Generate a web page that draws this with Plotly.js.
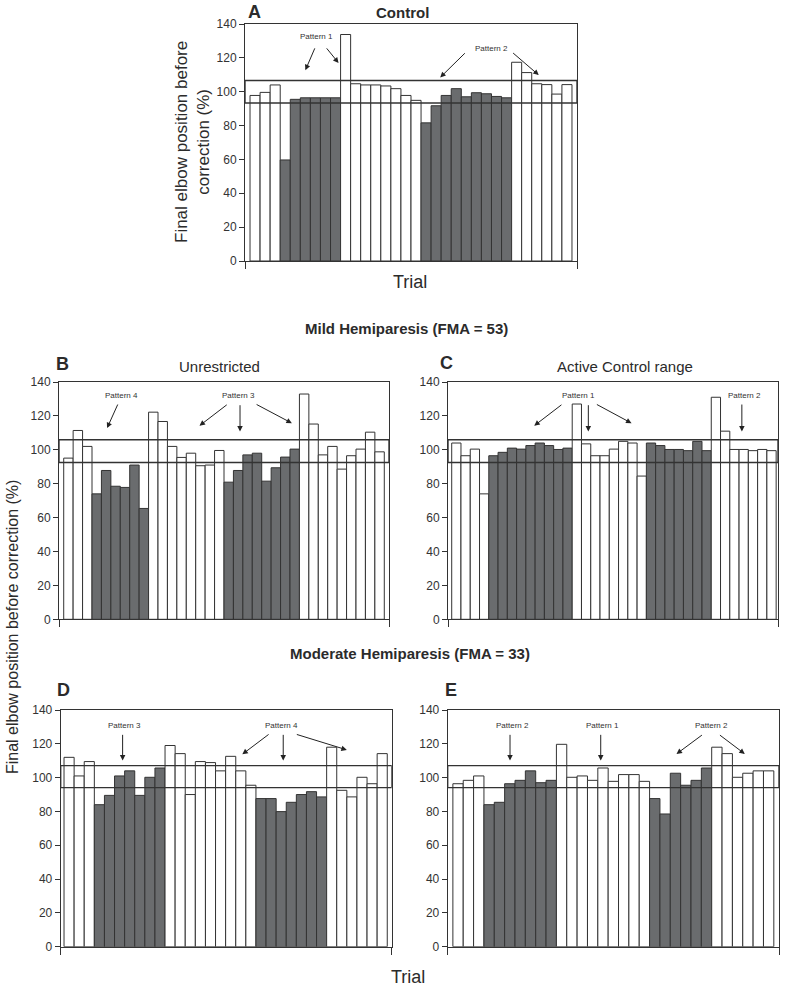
<!DOCTYPE html>
<html>
<head>
<meta charset="utf-8">
<script src="https://cdn.plot.ly/plotly-3.0.1.min.js"></script>
<style>
  html, body { margin: 0; padding: 0; background: #fff; }
  #chart { width: 789px; height: 989px; }
</style>
</head>
<body>
<div id="chart"></div>
<script>
// final elbow position before correction (%), one value per trial
const valuesA = [97.8, 99.6, 104, 59.7, 95.5, 96.4, 96.4, 96.4, 96.4, 133.8, 104.7, 104, 104, 103.4, 101.8, 97.8,
                 94.9, 81.6, 91.7, 97.8, 101.8, 97, 99.4, 98.8, 97.2, 96.4, 117.4, 111.3, 104.7, 104.2, 98.6, 104.2];
const valuesB = [95.1, 111.4, 102, 74, 87.8, 78.5, 77.8, 91, 65.4, 122.2, 116.7, 102, 95.5, 98, 90.6, 91, 99.6,
                 80.9, 87.8, 97, 98, 81.5, 89.4, 95.7, 100.4, 132.9, 115.2, 97, 102, 88.6, 96.5, 100.4, 110.4, 98.8];
const valuesC = [104, 96.5, 100.4, 74, 96.5, 98.5, 101, 100.4, 102.5, 104, 102.5, 100.2, 101, 127, 103.5, 96.5,
                 96.5, 100.4, 105, 104, 84.5, 104, 102.5, 100.2, 100.2, 99.5, 105, 99.5, 131, 111, 100.2, 100.2,
                 99.5, 100.2, 99.5];
const valuesD = [112, 101, 109.5, 84, 89.5, 101, 104, 89.5, 100.2, 105.7, 119, 114.2, 90, 109.5, 108.9, 104,
                 112.6, 104, 95.5, 87.6, 87.6, 79.9, 85.4, 90, 91.7, 88.6, 118, 92.5, 88.6, 100.2, 96.4, 114.2];
const valuesE = [96.4, 98.4, 101, 84, 85.4, 96.4, 98.4, 104, 97, 98.4, 119.7, 100.2, 101, 98.4, 105.7, 97.8,
                 101.8, 101.8, 97.8, 87.6, 78.5, 102.6, 95.5, 98.4, 105.7, 118, 114.2, 100.2, 102.6, 104, 104];

// 1 = shaded trial, 0 = open trial
const shadedA = [0,0,0,1,1,1,1,1,1,0,0,0,0,0,0,0,0,1,1,1,1,1,1,1,1,1,0,0,0,0,0,0];
const shadedB = [0,0,0,1,1,1,1,1,1,0,0,0,0,0,0,0,0,1,1,1,1,1,1,1,1,0,0,0,0,0,0,0,0,0];
const shadedC = [0,0,0,0,1,1,1,1,1,1,1,1,1,0,0,0,0,0,0,0,0,1,1,1,1,1,1,1,0,0,0,0,0,0,0];
const shadedD = [0,0,0,1,1,1,1,1,1,1,0,0,0,0,0,0,0,0,0,1,1,1,1,1,1,1,0,0,0,0,0,0];
const shadedE = [0,0,0,1,1,1,1,1,1,1,0,0,0,0,0,0,0,0,0,1,1,1,1,1,1,0,0,0,0,0,0];

// control band (lower, upper)
const bandA = [93.3, 106.6];
const bandB = [92.5, 105.9];
const bandC = [92.5, 105.9];
const bandD = [94.1, 107.1];
const bandE = [94.1, 107.1];

const yTicks = [0, 20, 40, 60, 80, 100, 120, 140];

const W = 789, H = 989;
const FONT = 'Liberation Sans, Arial, sans-serif';
const INK = '#2b2b2b';
const DARK = '#6a6c6e';

const panels = [
    { id: '',  vals: valuesA, shade: shadedA, band: bandA, dx: [245, 577],   dy: [24, 261],    range: [-1, 32] },
    { id: '2', vals: valuesB, shade: shadedB, band: bandB, dx: [59, 389],    dy: [382, 619.3], range: [-1, 34] },
    { id: '3', vals: valuesC, shade: shadedC, band: bandC, dx: [448, 778],   dy: [382, 619.3], range: [-0.9, 34.7] },
    { id: '4', vals: valuesD, shade: shadedD, band: bandD, dx: [60.7, 391.7], dy: [710, 946.7], range: [-0.83, 31.94] },
    { id: '5', vals: valuesE, shade: shadedE, band: bandE, dx: [447.7, 779], dy: [710, 946.7], range: [-1, 31] },
];

const px = x => x / W;
const py = y => 1 - y / H;

const data = [];
const layout = {
    width: W, height: H,
    margin: { l: 0, r: 0, t: 0, b: 0 },
    paper_bgcolor: '#fff', plot_bgcolor: '#fff',
    font: { family: FONT, color: INK },
    showlegend: false,
    bargap: 0,
    shapes: [],
    annotations: [],
};

panels.forEach(p => {
    data.push({
        type: 'bar',
        x: p.vals.map((_, i) => i),
        y: p.vals,
        width: 1,
        marker: {
            color: p.shade.map(s => s ? DARK : '#ffffff'),
            line: { color: '#333', width: 1 },
        },
        xaxis: 'x' + p.id, yaxis: 'y' + p.id,
        hoverinfo: 'y',
    });
    layout['xaxis' + p.id] = {
        domain: [px(p.dx[0]), px(p.dx[1])],
        anchor: 'y' + p.id,
        range: p.range,
        tickvals: p.range, ticks: 'outside', ticklen: 7, tickcolor: '#333',
        showticklabels: false,
        showgrid: false, zeroline: false,
        showline: true, mirror: true, linecolor: '#333', linewidth: 1,
    };
    layout['yaxis' + p.id] = {
        domain: [py(p.dy[1]), py(p.dy[0])],
        anchor: 'x' + p.id,
        range: [0, 140],
        tickvals: yTicks, ticks: 'outside', ticklen: 5, tickcolor: '#333',
        tickfont: { size: 12, color: '#333' },
        showgrid: false, zeroline: false,
        showline: true, mirror: true, linecolor: '#333', linewidth: 1,
    };
    layout.shapes.push({
        type: 'rect', xref: 'x' + p.id, yref: 'y' + p.id,
        x0: p.range[0], x1: p.range[1], y0: p.band[0], y1: p.band[1],
        line: { color: '#333', width: 1.4 }, fillcolor: 'rgba(0,0,0,0)',
    });
});

function label(text, x, y, size, opts = {}) {
    layout.annotations.push(Object.assign({
        text, x: px(x), y: py(y), xref: 'paper', yref: 'paper',
        showarrow: false, xanchor: 'center', yanchor: 'middle',
        font: { size, color: INK },
    }, opts));
}

label('<b>A</b>', 254, 12, 18);
label('<b>Control</b>', 403, 12, 15);
label('Final elbow position before<br>correction (%)', 192, 142, 17, { textangle: -90 });
label('Trial', 410, 282, 18);
label('<b>Mild Hemiparesis (FMA = 53)</b>', 406, 328, 15);
label('<b>B</b>', 62, 364, 18);
label('Unrestricted', 219, 366, 15);
label('<b>C</b>', 446, 363, 18);
label('Active Control range', 625, 366, 15);
label('<b>Moderate Hemiparesis (FMA = 33)</b>', 410, 653, 15);
label('<b>D</b>', 64, 690, 18);
label('<b>E</b>', 451, 690, 18);
label('Final elbow position before correction (%)', 12, 627, 16, { textangle: -90 });
label('Trial', 408, 977, 18);

// pattern notes: text position, then arrows as [tailX, tailY, tipX, tipY] in data units
const notes = [
    { ax: '',  text: 'Pattern 1', at: [6.1, 132.5], arrows: [[6.0, 126.5, 5.0, 112.7], [7.0, 126.5, 8.3, 117]] },
    { ax: '',  text: 'Pattern 2', at: [23.5, 125.6], arrows: [[21.0, 123.6, 18.4, 108.4], [25.5, 123.6, 28.2, 109.8]] },
    { ax: '2', text: 'Pattern 4', at: [5.65, 131.9], arrows: [[5.3, 127.6, 4.1, 112.8]] },
    { ax: '2', text: 'Pattern 3', at: [18.0, 131.9], arrows: [[16.95, 127.2, 13.9, 114.2], [18.2, 127.2, 18.2, 110.8], [19.8, 127.2, 23.7, 115.7]] },
    { ax: '3', text: 'Pattern 1', at: [13.16, 131.9], arrows: [[11.5, 127.2, 8.4, 114.2], [14.24, 127.2, 14.24, 110.8], [15.0, 127.2, 18.9, 115.7]] },
    { ax: '3', text: 'Pattern 2', at: [31.1, 131.9], arrows: [[30.8, 127.6, 30.8, 110.8]] },
    { ax: '4', text: 'Pattern 3', at: [5.5, 130.6], arrows: [[5.3, 126.2, 5.3, 110.1]] },
    { ax: '4', text: 'Pattern 4', at: [21.05, 130.6], arrows: [[19.9, 126.2, 17.15, 113.8], [21.2, 126.2, 21.2, 110.1], [22.4, 125.8, 27.5, 116.4]] },
    { ax: '5', text: 'Pattern 2', at: [5.28, 130.6], arrows: [[5.02, 126.2, 5.02, 110.1]] },
    { ax: '5', text: 'Pattern 1', at: [13.98, 130.6], arrows: [[13.78, 126.2, 13.78, 110.1]] },
    { ax: '5', text: 'Pattern 2', at: [24.44, 130.6], arrows: [[23.7, 125.8, 21.1, 114.0], [25.15, 125.8, 27.7, 114.0]] },
];

notes.forEach(n => {
    layout.annotations.push({
        text: n.text, x: n.at[0], y: n.at[1], xref: 'x' + n.ax, yref: 'y' + n.ax,
        showarrow: false, font: { size: 8, color: '#333' },
    });
    n.arrows.forEach(a => {
        layout.annotations.push({
            text: '', xref: 'x' + n.ax, yref: 'y' + n.ax, axref: 'x' + n.ax, ayref: 'y' + n.ax,
            x: a[2], y: a[3], ax: a[0], ay: a[1],
            showarrow: true, arrowhead: 2, arrowsize: 1.1, arrowwidth: 1, arrowcolor: '#222',
        });
    });
});

Plotly.newPlot('chart', data, layout, { displayModeBar: false, staticPlot: true });
</script>
</body>
</html>
